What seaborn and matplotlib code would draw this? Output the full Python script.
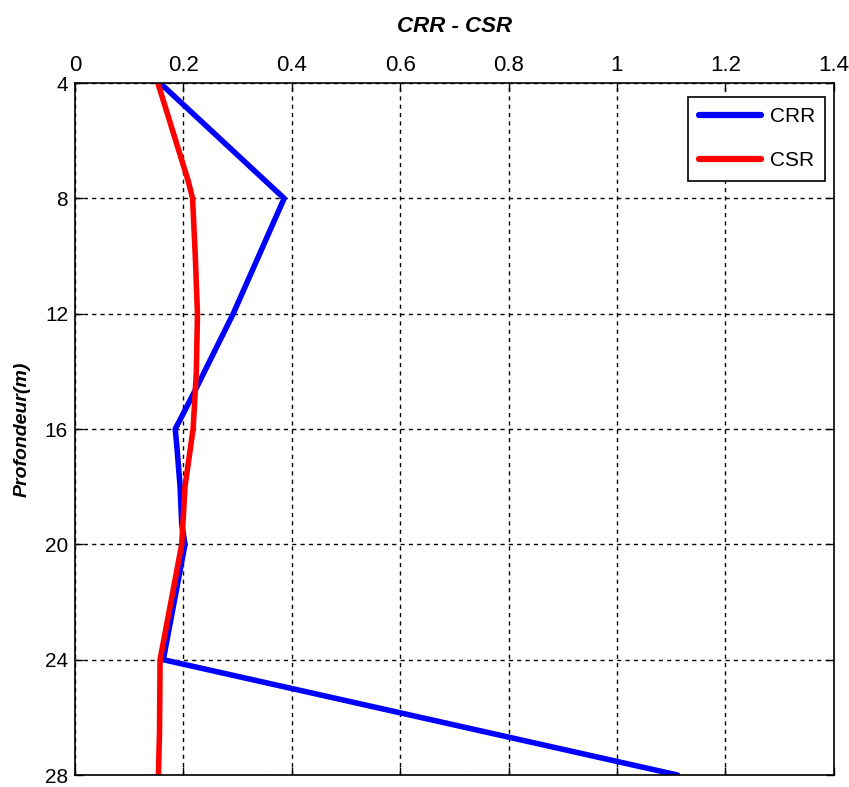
import matplotlib
matplotlib.use("Agg")
import matplotlib.pyplot as plt
import seaborn as sns
import pandas as pd

# Data
crr_depth = [4, 8, 12, 14.8, 16, 16.6, 18, 19.3, 20, 24, 28]
crr_value = [0.157, 0.386, 0.292, 0.218, 0.185, 0.188, 0.194, 0.197, 0.203, 0.163, 1.112]
csr_depth = [4, 7.4, 8, 10, 12, 14, 16, 18, 20, 24, 26.5, 28]
csr_value = [0.153, 0.209, 0.217, 0.222, 0.226, 0.224, 0.218, 0.203, 0.197, 0.157, 0.156, 0.154]
x_ticks = [0, 0.2, 0.4, 0.6, 0.8, 1.0, 1.2, 1.4]
x_tick_labels = ["0", "0.2", "0.4", "0.6", "0.8", "1", "1.2", "1.4"]
y_ticks = [4, 8, 12, 16, 20, 24, 28]

sns.set_style("white")
plt.rcParams["font.family"] = ["Liberation Sans", "DejaVu Sans"]
plt.rcParams["text.color"] = "black"
plt.rcParams["axes.labelcolor"] = "black"
plt.rcParams["xtick.color"] = "black"
plt.rcParams["ytick.color"] = "black"

df = pd.concat([
    pd.DataFrame({"value": crr_value, "depth": crr_depth, "serie": "CRR"}),
    pd.DataFrame({"value": csr_value, "depth": csr_depth, "serie": "CSR"}),
], ignore_index=True)

fig = plt.figure(figsize=(8.49, 7.87), dpi=100)
ax = fig.add_axes([0.0883, 0.0152, 0.8937, 0.8793])

sns.lineplot(data=df, x="value", y="depth", hue="serie", sort=False, estimator=None,
             palette={"CRR": "#0000ff", "CSR": "#ff0000"}, linewidth=4.0, ax=ax)

ax.set_xlim(0, 1.4)
ax.set_ylim(28, 4)
ax.xaxis.tick_top()
ax.set_xticks(x_ticks)
ax.set_xticklabels(x_tick_labels, fontsize=16)
ax.set_yticks(y_ticks)
ax.set_yticklabels([str(v) for v in y_ticks], fontsize=15)
ax.tick_params(axis="both", direction="in", length=6, width=1, color="black",
               top=True, bottom=True, left=True, right=True, pad=5)
ax.grid(True, color="black", linestyle=(0, (3, 3)), linewidth=1)
for s in ax.spines.values():
    s.set_color("black")
    s.set_linewidth(1.2)

ax.set_xlabel("")
ax.set_ylabel("Profondeur(m)", fontsize=14, fontweight="bold", fontstyle="italic", labelpad=10)
ax.set_title("CRR - CSR", fontsize=16, fontweight="bold", fontstyle="italic", pad=37)

leg = ax.legend(loc="upper right", bbox_to_anchor=(0.989, 0.98), frameon=True, fancybox=False,
                edgecolor="black", framealpha=1, handlelength=3.0, handletextpad=0.4,
                borderpad=0.5, labelspacing=1.2, borderaxespad=0.0,
                prop={"size": 15})
leg.get_frame().set_linewidth(1.2)
for l in leg.get_lines():
    l.set_linewidth(4.5)

fig.savefig("out.png", dpi=100)
